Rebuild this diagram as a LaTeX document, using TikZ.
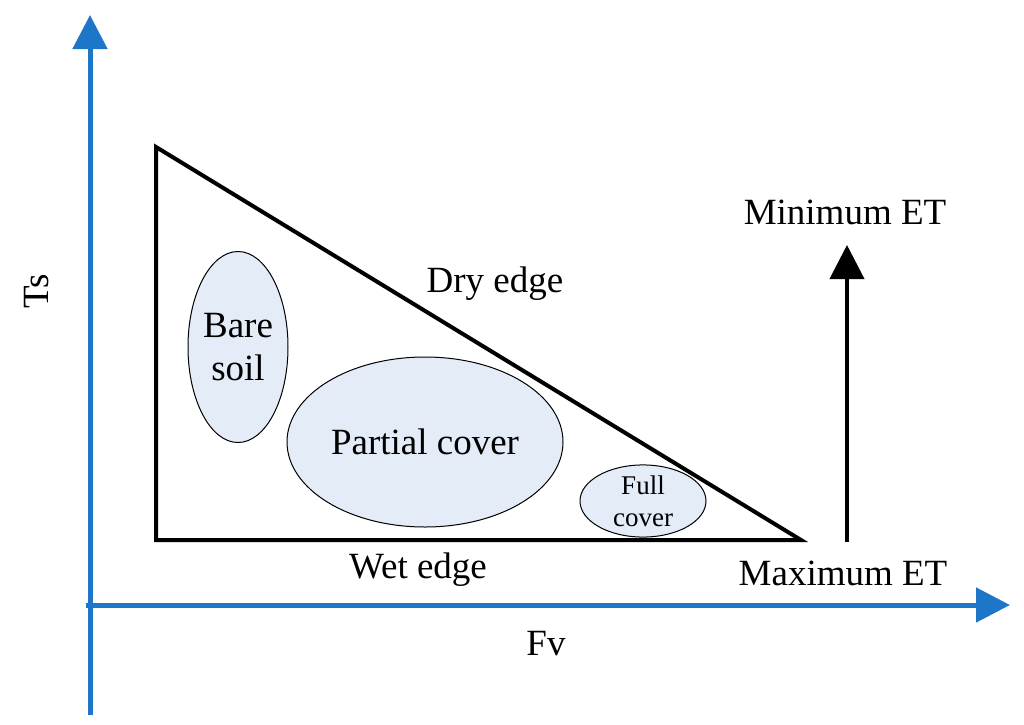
\documentclass[tikz,border=0pt]{standalone}
\usepackage{fontspec}
\setmainfont{Liberation Serif}
\newfontfamily\timesfont{Liberation Serif}
\usetikzlibrary{arrows.meta,shapes.geometric}
\definecolor{axisblue}{RGB}{30,118,200}
\definecolor{zonefill}{RGB}{227,236,247}
\tikzset{
  axisline/.style={draw=axisblue,line width=2.5pt,-{Triangle[length=17pt,width=17pt]}},
  etarrow/.style={draw=black,line width=2pt,-{Triangle[length=17pt,width=17pt]}},
  edgeline/.style={draw=black,line width=2pt},
  zone/.style={ellipse,draw=black,line width=0.5pt,fill=zonefill,inner sep=0pt,align=center},
  txt/.style={inner sep=0pt,font=\timesfont\fontsize{18.5}{21.5}\selectfont},
  smalltxt/.style={inner sep=0pt,font=\timesfont\fontsize{13.5}{16}\selectfont}
}
\begin{document}
\begin{tikzpicture}[x=0.5pt,y=-0.5pt]
\useasboundingbox (0,0) rectangle (1024,724);
% axes
\coordinate (yb) at (90,715);
\coordinate (yt) at (90,15);
\coordinate (xl) at (86,605);
\coordinate (xr) at (1010,605);
\draw[axisline] (yb) -- (yt);
\draw[axisline] (xl) -- (xr);
% triangle
\coordinate (tl) at (156,147);
\coordinate (bl) at (156,540);
\coordinate (br) at (801,540);
\draw[edgeline] (tl) -- (bl) -- (br) -- cycle;
% zones
\node[zone,txt,minimum width=50pt,minimum height=95.5pt] (bare) at (238,347) {Bare\\soil};
\node[zone,txt,minimum width=138pt,minimum height=85pt] (partial) at (425,442) {Partial cover};
\node[zone,smalltxt,minimum width=63pt,minimum height=33pt] (full) at (643,501) {Full\\cover};
% ET arrow
\coordinate (eb) at (847,542);
\coordinate (et) at (847,245);
\draw[etarrow] (eb) -- (et);
% labels
\node[txt] (minet) at (845,212) {Minimum ET};
\node[txt] (maxet) at (843,573) {Maximum ET};
\node[txt] (dry) at (495,284) {Dry edge};
\node[txt] (wet) at (418,570) {Wet edge};
\node[txt] (fv) at (546,644) {Fv};
\node[txt,rotate=90] (ts) at (37,291) {Ts};
\end{tikzpicture}
\end{document}
